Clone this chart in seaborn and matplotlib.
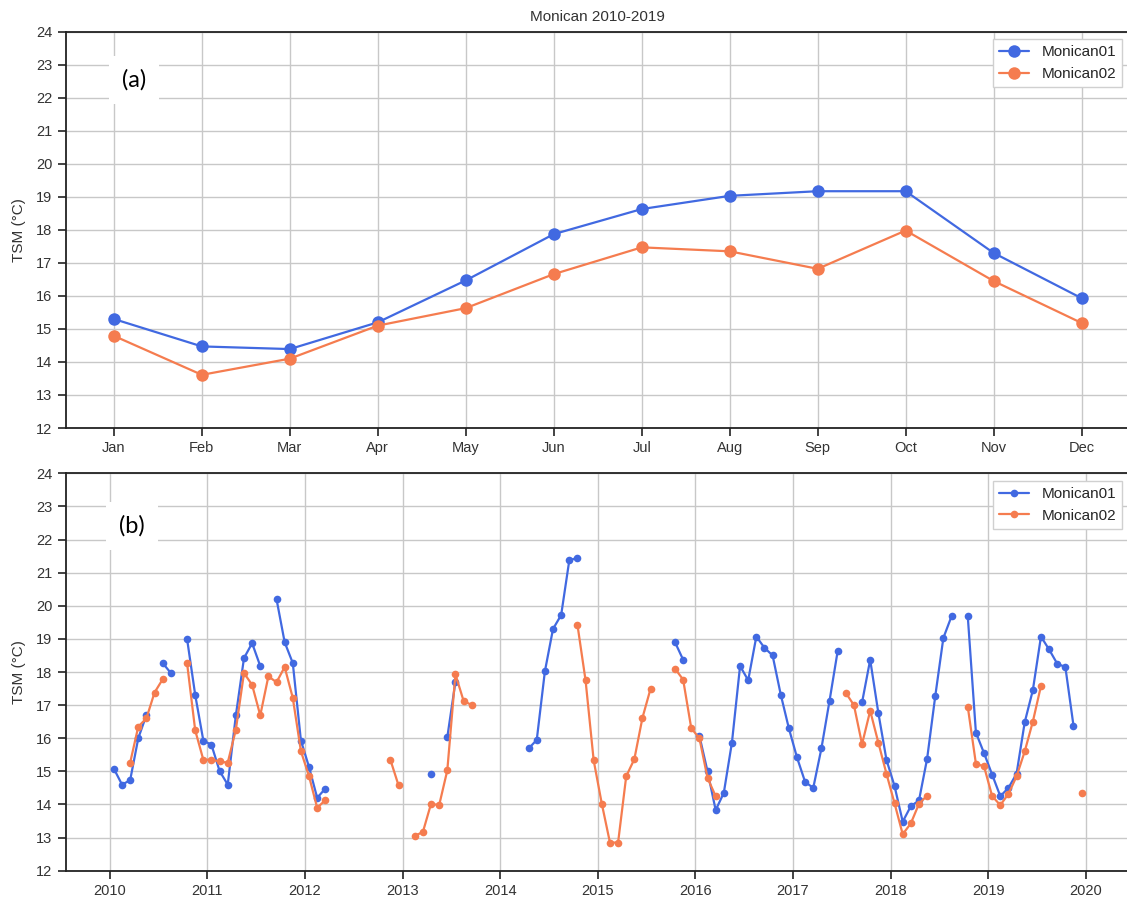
import numpy as np
import pandas as pd
import matplotlib
matplotlib.use("Agg")
import matplotlib.pyplot as plt
from matplotlib.lines import Line2D
import seaborn as sns

nan = np.nan

# ---------------- data ----------------
months = ["Jan", "Feb", "Mar", "Apr", "May", "Jun",
          "Jul", "Aug", "Sep", "Oct", "Nov", "Dec"]
series_names = ["Monican01", "Monican02"]

clim_m01 = [15.30, 14.47, 14.39, 15.20, 16.47, 17.87,
            18.63, 19.03, 19.17, 19.17, 17.30, 15.93]
clim_m02 = [14.79, 13.61, 14.10, 15.10, 15.63, 16.66,
            17.47, 17.35, 16.82, 17.98, 16.45, 15.18]

years = list(range(2010, 2020))

m01_2010 = [15.08, 14.60, 14.73, 16.00, 16.70, nan, 18.27, 17.97, nan, 19.00, 17.31, 15.93]
m01_2011 = [15.80, 15.01, 14.60, 16.69, 18.42, 18.87, 18.18, nan, 20.20, 18.90, 18.27, 15.93]
m01_2012 = [15.13, 14.20, 14.48, nan, nan, nan, nan, nan, nan, nan, nan, nan]
m01_2013 = [nan, nan, nan, 14.93, nan, 16.03, 17.70, nan, nan, nan, nan, nan]
m01_2014 = [nan, nan, nan, 15.69, 15.95, 18.02, 19.30, 19.72, 21.37, 21.45, nan, nan]
m01_2015 = [nan, nan, nan, nan, nan, nan, nan, nan, nan, 18.90, 18.37, nan]
m01_2016 = [16.07, 15.00, 13.83, 14.35, 15.87, 18.18, 17.75, 19.07, 18.73, 18.50, 17.32, 16.30]
m01_2017 = [15.42, 14.68, 14.50, 15.69, 17.13, 18.63, nan, nan, 17.08, 18.37, 16.77, 15.35]
m01_2018 = [14.55, 13.48, 13.95, 14.12, 15.38, 17.27, 19.03, 19.68, nan, 19.68, 16.17, 15.55]
m01_2019 = [14.90, 14.25, 14.50, 14.93, 16.48, 17.45, 19.07, 18.68, 18.25, 18.15, 16.38, nan]

m02_2010 = [nan, nan, 15.26, 16.35, 16.60, 17.38, 17.78, nan, nan, 18.27, 16.24, 15.35]
m02_2011 = [15.35, 15.30, 15.26, 16.26, 17.97, 17.61, 16.69, 17.87, 17.69, 18.15, 17.22, 15.61]
m02_2012 = [14.85, 13.90, 14.13, nan, nan, nan, nan, nan, nan, nan, 15.35, 14.58]
m02_2013 = [nan, 13.05, 13.17, 14.02, 13.98, 15.03, 17.93, 17.13, 17.00, nan, nan, nan]
m02_2014 = [nan, nan, nan, nan, nan, nan, nan, nan, nan, 19.43, 17.75, 15.33]
m02_2015 = [14.02, 12.85, 12.85, 14.85, 15.37, 16.62, 17.50, nan, nan, 18.10, 17.77, 16.30]
m02_2016 = [16.00, 14.80, 14.25, nan, nan, nan, nan, nan, nan, nan, nan, nan]
m02_2017 = [nan, nan, nan, nan, nan, nan, 17.37, 17.00, 15.82, 16.83, 15.87, 14.93]
m02_2018 = [14.03, 13.10, 13.43, 14.02, 14.27, nan, nan, nan, nan, 16.95, 15.23, 15.15]
m02_2019 = [14.25, 13.98, 14.32, 14.85, 15.60, 16.50, 17.58, nan, nan, nan, nan, 14.35]

m01_years = [m01_2010, m01_2011, m01_2012, m01_2013, m01_2014,
             m01_2015, m01_2016, m01_2017, m01_2018, m01_2019]
m02_years = [m02_2010, m02_2011, m02_2012, m02_2013, m02_2014,
             m02_2015, m02_2016, m02_2017, m02_2018, m02_2019]

colors = {"Monican01": "#4169E1", "Monican02": "#F57C4F"}

# ---------------- build frames ----------------
clim_df = pd.DataFrame({
    "month": list(range(12)) * 2,
    "TSM": clim_m01 + clim_m02,
    "serie": [series_names[0]] * 12 + [series_names[1]] * 12,
})


def series_frame(per_year, name):
    t = [y + (m + 0.5) / 12.0 for y in years for m in range(12)]
    v = [val for yr in per_year for val in yr]
    df = pd.DataFrame({"t": t, "TSM": v})
    df["seg"] = df["TSM"].isna().cumsum()
    df = df.dropna().copy()
    df["serie"] = name
    return df


ts01 = series_frame(m01_years, series_names[0])
ts02 = series_frame(m02_years, series_names[1])

# ---------------- style ----------------
sns.set_theme(style="ticks", context="notebook")
plt.rcParams["font.family"] = ["Liberation Sans", "DejaVu Sans"]
plt.rcParams["axes.edgecolor"] = "#222222"
plt.rcParams["axes.linewidth"] = 1.3

fig = plt.figure(figsize=(11.27, 9.01), dpi=100)
W, H = 1127.0, 901.0
left_px, right_px = 65.5, 1130.0
ax1 = fig.add_axes([left_px / W, 1 - 428.0 / H, (right_px - left_px) / W, (428.0 - 31.7) / H])
ax2 = fig.add_axes([left_px / W, 1 - 870.7 / H, (right_px - left_px) / W, (870.7 - 473.3) / H])

# ---------------- top panel ----------------
sns.lineplot(data=clim_df, x="month", y="TSM", hue="serie", palette=colors,
             marker="o", markersize=9, markeredgewidth=0, linewidth=1.6,
             legend=False, ax=ax1)
ax1.set_xticks(range(12))
ax1.set_xticklabels(months)
ax1.set_xlim(-0.55, 11.55)
ax1.set_title("Monican 2010-2019", fontsize=11, color="#333333", pad=8)

# ---------------- bottom panel ----------------
for df in (ts01, ts02):
    name = df["serie"].iloc[0]
    sns.lineplot(data=df, x="t", y="TSM", units="seg", estimator=None,
                 color=colors[name], marker="o", markersize=5.5,
                 markeredgewidth=0, linewidth=1.6, legend=False, ax=ax2)
ax2.set_xticks(list(range(2010, 2021)))
ax2.set_xticklabels([str(y) for y in range(2010, 2021)])
ax2.set_xlim(2009.546, 2020.454)

for ax, ms in ((ax1, 9), (ax2, 5.5)):
    ax.set_ylim(12, 24)
    ax.set_yticks(list(range(12, 25)))
    ax.set_xlabel("")
    ax.set_ylabel("TSM (°C)", fontsize=11, color="#333333")
    ax.grid(True, color="#c8c8c8", linewidth=1.0)
    ax.set_axisbelow(True)
    ax.tick_params(axis="both", labelsize=10.5, length=6, width=1.2,
                   colors="#222222", labelcolor="#333333")
    handles = [Line2D([0], [0], color=colors[n], marker="o", markersize=ms,
                      markeredgewidth=0, linewidth=1.6, label=n)
               for n in series_names]
    leg = ax.legend(handles=handles, loc="upper right", fontsize=11,
                    frameon=True, fancybox=False, framealpha=1.0)
    leg.get_frame().set_edgecolor("#d0d0d0")

ax1.yaxis.set_label_coords(-0.037, 0.5)
ax2.yaxis.set_label_coords(-0.037, 0.5)

# panel labels
for (xp, yp, txt) in ((134, 80, "(a)"), (132, 526, "(b)")):
    fig.text(xp / W, 1 - yp / H, txt, fontsize=17, family=["Lato", "DejaVu Sans"],
             ha="center", va="center", color="black",
             bbox=dict(boxstyle="square,pad=0.55", facecolor="white", edgecolor="none"))

fig.savefig("out.png", dpi=100)
